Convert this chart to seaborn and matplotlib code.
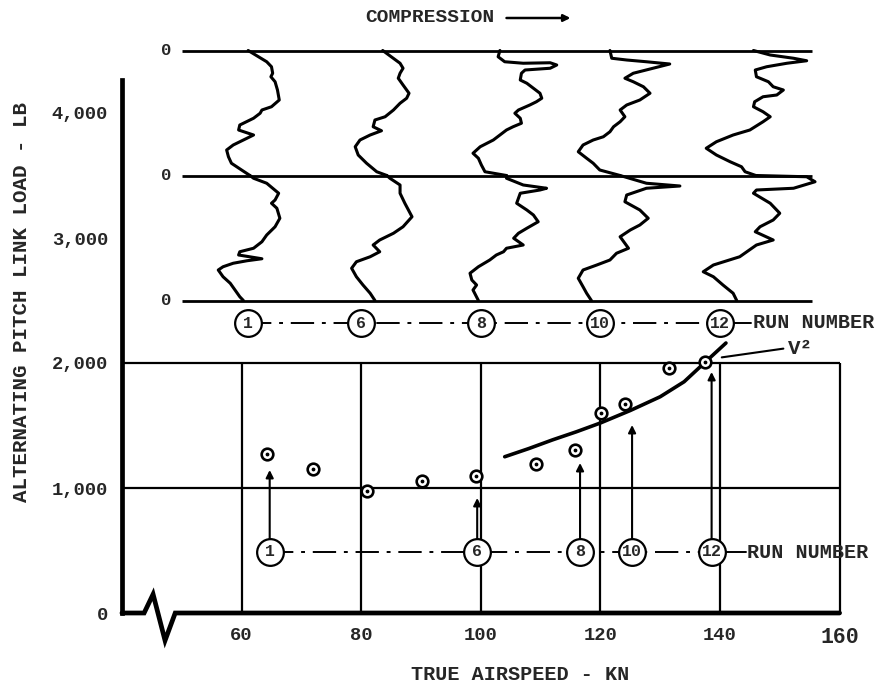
import numpy as np
import pandas as pd
import matplotlib
matplotlib.use("Agg")
import matplotlib.pyplot as plt
import seaborn as sns

# ---------------- data ----------------
airspeed_kn = [64.3, 71.9, 80.9, 90.1, 99.2, 109.2, 115.8, 120.1, 124.1, 131.4, 137.5]
pitch_load_lb = [1270, 1152, 976, 1058, 1096, 1192, 1304, 1602, 1672, 1958, 2006]

v2_speed = [104.0, 108.0, 112.0, 116.0, 120.0, 125.0, 130.0, 134.0, 137.6, 141.0]
v2_load = [1250, 1315, 1385, 1450, 1520, 1620, 1730, 1850, 2010, 2160]

run_numbers = ["1", "6", "8", "10", "12"]
run_speed_trace_row = [61.0, 80.0, 100.0, 120.0, 140.0]
run_speed_point_row = [64.7, 99.4, 116.6, 125.3, 138.6]
arrow_tip_load = [1144, 920, 1200, 1504, 1928]

y_ticks = [0, 1000, 2000, 3000, 4000]
y_tick_labels = ["0", "1,000", "2,000", "3,000", "4,000"]
x_ticks = [60, 80, 100, 120, 140, 160]
x_tick_labels = ["60", "80", "100", "120", "140", "160"]
trace_zero_lines = [4500, 3500, 2500]

# oscillograph traces (airspeed-axis position, load-axis position)
wave_1_top = [(61.1,4500),(64.2,4410),(65.0,4370),(65.2,4318),(64.9,4290),(65.6,4250),(66.0,4184),(66.3,4104),(65.0,4050),(63.4,4024),(63.1,3998),(62.0,3958),(59.7,3904),(59.5,3864),(62.0,3824),(60.9,3798),(58.6,3744),(57.5,3704),(57.8,3650),(58.3,3598),(60.0,3544),(61.4,3500)]
wave_6_top = [(83.6,4500),(86.5,4398),(87.0,4358),(86.5,4318),(86.2,4278),(87.0,4224),(88.0,4158),(87.6,4118),(86.5,4078),(85.4,4024),(84.0,3970),(82.3,3944),(82.0,3890),(83.4,3858),(81.5,3824),(79.8,3784),(79.0,3730),(79.5,3664),(80.9,3598),(82.6,3530),(84.3,3500)]
wave_8_top = [(103.2,4500),(102.9,4450),(104.0,4410),(107.1,4398),(111.6,4402),(112.7,4384),(111.6,4358),(107.4,4344),(106.8,4318),(106.6,4264),(107.7,4238),(108.8,4198),(109.9,4158),(110.2,4118),(109.3,4090),(108.2,4064),(106.3,4024),(105.7,3998),(106.6,3958),(106.8,3918),(105.4,3890),(104.3,3864),(103.2,3824),(102.1,3784),(99.9,3730),(98.7,3678),(99.6,3638),(100.1,3584),(100.7,3530),(104.3,3500)]
wave_10_top = [(121.6,4500),(121.9,4438),(124.4,4424),(127.7,4410),(131.6,4392),(128.8,4358),(125.5,4318),(124.1,4278),(125.5,4250),(127.2,4210),(128.3,4158),(126.6,4104),(124.4,4064),(123.3,4024),(124.1,3970),(123.3,3930),(122.2,3890),(121.6,3850),(120.5,3810),(118.8,3784),(117.1,3744),(116.3,3690),(117.7,3638),(118.8,3598),(119.9,3544),(123.3,3500)]
wave_12_top = [(145.6,4500),(148.4,4464),(152.3,4438),(154.5,4418),(151.2,4398),(147.8,4370),(145.9,4344),(146.1,4290),(148.1,4250),(148.9,4210),(150.6,4184),(149.5,4144),(147.2,4130),(145.8,4090),(145.6,4050),(147.2,4010),(148.4,3970),(147.2,3930),(145.0,3864),(142.2,3824),(139.4,3770),(137.7,3718),(139.4,3664),(141.7,3610),(143.6,3570),(144.2,3530),(146.0,3500)]
wave_1_bot = [(61.4,3500),(62.0,3478),(64.2,3438),(66.2,3358),(65.6,3304),(65.0,3278),(65.9,3238),(66.4,3158),(65.6,3090),(64.2,3024),(63.4,2970),(62.0,2918),(59.7,2890),(59.5,2864),(63.4,2834),(60.9,2818),(58.6,2798),(56.9,2770),(56.1,2744),(56.9,2690),(58.1,2638),(58.9,2584),(59.7,2530),(60.3,2500)]
wave_6_bot = [(84.3,3500),(84.8,3478),(86.5,3424),(86.5,3358),(87.3,3278),(88.5,3170),(87.0,3090),(85.4,3038),(83.1,2984),(82.0,2944),(83.1,2890),(81.5,2850),(79.2,2810),(78.4,2758),(79.2,2690),(80.3,2624),(81.5,2558),(82.3,2500)]
wave_8_bot = [(104.3,3500),(104.3,3478),(107.1,3424),(111.0,3398),(109.9,3384),(106.6,3358),(106.0,3278),(107.7,3224),(108.8,3184),(109.6,3130),(107.7,3078),(106.3,3038),(105.5,2998),(107.1,2944),(104.3,2918),(103.8,2890),(102.6,2864),(101.5,2824),(99.6,2770),(98.2,2718),(98.5,2664),(99.3,2624),(98.7,2584),(99.6,2500)]
wave_10_bot = [(123.3,3500),(127.7,3438),(133.3,3416),(127.7,3398),(124.4,3344),(124.1,3290),(126.6,3224),(128.0,3158),(126.6,3104),(125.0,3064),(123.3,3010),(124.7,2918),(122.7,2878),(121.6,2824),(119.4,2784),(117.1,2744),(116.3,2678),(117.1,2610),(117.7,2558),(118.5,2500)]
wave_12_bot = [(146.0,3500),(154.5,3490),(155.9,3450),(152.3,3398),(146.1,3384),(145.6,3358),(148.4,3278),(150.0,3198),(148.9,3144),(146.7,3090),(145.9,3050),(148.9,2984),(146.1,2944),(143.3,2850),(138.9,2784),(137.2,2730),(138.9,2690),(140.5,2624),(142.2,2558),(142.8,2500)]

waves = {"1t": wave_1_top, "6t": wave_6_top, "8t": wave_8_top, "10t": wave_10_top, "12t": wave_12_top,
         "1b": wave_1_bot, "6b": wave_6_bot, "8b": wave_8_bot, "10b": wave_10_bot, "12b": wave_12_bot}

# ---------------- style ----------------
sns.set_style("white")
plt.rcParams["font.family"] = ["Liberation Mono", "DejaVu Sans Mono"]
plt.rcParams["font.weight"] = "bold"
FS = 13.5
K = "black"

fig = plt.figure(figsize=(8.8, 6.88), dpi=100)
ax = fig.add_axes([0, 0, 1, 1])
ax.set_xlim(19.6, 166.76)
ax.set_ylim(-600, 4904)
ax.patch.set_alpha(0)

for s in ["top", "right"]:
    ax.spines[s].set_visible(False)
ax.spines["left"].set_position(("data", 40))
ax.spines["left"].set_bounds(0, 4264)
ax.spines["left"].set_linewidth(3.4)
ax.spines["left"].set_color(K)
ax.spines["bottom"].set_position(("data", 0))
ax.spines["bottom"].set_color("none")

# bottom axis with break mark
ax.plot([40, 43.7, 45.2, 47.2, 48.9, 160], [0, 0, 150, -220, 0, 0], color=K, lw=3.4,
        solid_joinstyle="miter", clip_on=False, zorder=4)

# grid of the lower chart
ax.hlines([1000, 2000], 40, 160, color=K, lw=1.6, zorder=2)
ax.vlines(x_ticks, 0, 2000, color=K, lw=1.6, zorder=2)

# zero lines of the oscillograph strips
ax.hlines(trace_zero_lines, 50, 155.4, color=K, lw=2.0, zorder=2)
for z in trace_zero_lines:
    ax.text(48.3, z, "0", ha="right", va="center", fontsize=FS - 1)

# oscillograph traces
rows = []
for name, pts in waves.items():
    for i, (xv, yv) in enumerate(pts):
        rows.append({"trace": name, "order": i, "speed": xv, "load": yv})
wdf = pd.DataFrame(rows)
sns.lineplot(data=wdf, x="speed", y="load", units="trace", estimator=None, sort=False,
             color=K, lw=2.2, ax=ax, zorder=3)

# run-number rows
upper_y = 2320
lower_y = 488
ax.plot([run_speed_trace_row[0], run_speed_trace_row[-1]], [upper_y, upper_y], color=K, lw=1.4,
        ls=(0, (12, 4, 2, 4)), zorder=3)
ax.plot([run_speed_trace_row[-1], 145.2], [upper_y, upper_y], color=K, lw=1.4, zorder=3)
ax.plot([run_speed_point_row[0], run_speed_point_row[-1]], [lower_y, lower_y], color=K, lw=1.4,
        ls=(0, (12, 4, 2, 4)), zorder=3)
ax.plot([run_speed_point_row[-1], 144.3], [lower_y, lower_y], color=K, lw=1.4, zorder=3)
for row_x, row_y in [(run_speed_trace_row, upper_y), (run_speed_point_row, lower_y)]:
    ax.scatter(row_x, [row_y] * len(row_x), s=370, facecolor="white", edgecolor=K, lw=1.6, zorder=6)
    for xv, lab in zip(row_x, run_numbers):
        ax.text(xv, row_y, lab, ha="center", va="center", fontsize=12, zorder=7)
ax.text(145.5, upper_y, "RUN NUMBER", ha="left", va="center", fontsize=14.5)
ax.text(144.6, lower_y, "RUN NUMBER", ha="left", va="center", fontsize=14.5)

# arrows from run numbers to measured points
for xv, tip in zip(run_speed_point_row, arrow_tip_load):
    ax.annotate("", xy=(xv, tip), xytext=(xv, lower_y + 104),
                arrowprops=dict(arrowstyle="-|>", lw=1.5, color=K, mutation_scale=11,
                                shrinkA=0, shrinkB=0), zorder=5)

# V^2 curve
sns.lineplot(x=v2_speed, y=v2_load, sort=False, color=K, lw=2.6, ax=ax, zorder=4)
ax.plot([140.3, 150.6], [2045, 2115], color=K, lw=1.5)
ax.text(151.3, 2120, "V²", ha="left", va="center", fontsize=15)

# measured points
sns.scatterplot(x=airspeed_kn, y=pitch_load_lb, s=70, facecolor="white", edgecolor=K,
                linewidth=1.9, ax=ax, zorder=6)
ax.scatter(airspeed_kn, pitch_load_lb, s=3, color=K, zorder=7)

# ticks (set after seaborn calls)
ax.set_xlabel("")
ax.set_ylabel("")
ax.set_yticks(y_ticks, labels=y_tick_labels)
ax.set_xticks(x_ticks, labels=x_tick_labels)
ax.set_xlim(19.6, 166.76)
ax.set_ylim(-600, 4904)
ax.tick_params(axis="y", direction="in", length=9, width=1.5, pad=10, labelsize=FS, color=K)
ax.tick_params(axis="x", length=0, pad=10, labelsize=FS)
ax.get_xticklabels()[-1].set_fontsize(15.5)
ax.grid(False)

# compression label
ax.text(91.5, 4760, "COMPRESSION", ha="center", va="center", fontsize=14)
ax.annotate("", xy=(115.0, 4760), xytext=(104.3, 4760),
            arrowprops=dict(arrowstyle="-|>", lw=1.8, color=K, mutation_scale=10, shrinkA=0, shrinkB=0))

# axis titles
fig.text(22 / 880, 1 - 302 / 688, "ALTERNATING PITCH LINK LOAD - LB", rotation=90,
         ha="center", va="center", fontsize=15)
fig.text(520 / 880, 1 - 675 / 688, "TRUE AIRSPEED - KN", ha="center", va="center", fontsize=14.5)

fig.savefig("out.png", dpi=100, facecolor="white")
